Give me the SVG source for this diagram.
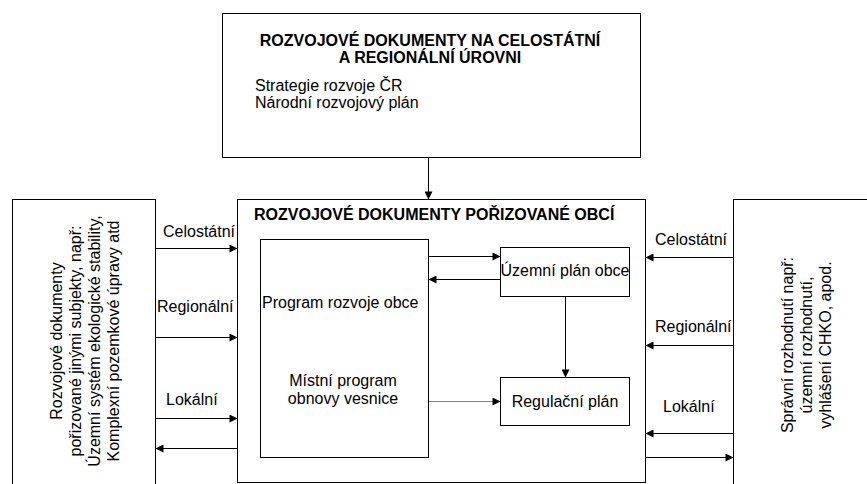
<svg xmlns="http://www.w3.org/2000/svg" width="867" height="484" viewBox="0 0 867 484">
  <style>
    .box { fill: #fff; stroke: #000; stroke-width: 1; }
    .t { font-family: "Liberation Sans", Arial, sans-serif; font-size: 16px; fill: #000; }
    .b { font-weight: bold; }
    .mid { text-anchor: middle; }
    .ln { stroke: #000; stroke-width: 1; fill: none; }
    .arr { marker-end: url(#head); }
    .dot { stroke-dasharray: 1 1; }
  </style>
  <defs>
    <marker id="head" viewBox="0 0 10 10" refX="10" refY="5" markerWidth="9" markerHeight="8" markerUnits="userSpaceOnUse" orient="auto">
      <path d="M0,0 L10,5 L0,10 Z" fill="#000"/>
    </marker>
  </defs>
  <rect width="867" height="484" fill="#fff"/>

  <!-- national / regional documents -->
  <g id="top">
    <rect class="box" x="222.5" y="13.5" width="418" height="144"/>
    <text class="t b mid" x="430" y="46">ROZVOJOVÉ DOKUMENTY NA CELOSTÁTNÍ</text>
    <text class="t b mid" x="430" y="63">A REGIONÁLNÍ ÚROVNI</text>
    <text class="t" x="255" y="91">Strategie rozvoje ČR</text>
    <text class="t" x="255" y="108">Národní rozvojový plán</text>
  </g>

  <!-- documents of other subjects -->
  <g id="left">
    <rect class="box" x="12.5" y="199.5" width="143" height="300"/>
    <g transform="translate(0,341) rotate(-90)">
      <text class="t mid" x="0" y="62">Rozvojové dokumenty</text>
      <text class="t mid" x="0" y="81">pořizované jinými subjekty, např:</text>
      <text class="t mid" x="0" y="100">Územní systém ekologické stability,</text>
      <text class="t mid" x="0" y="119">Komplexní pozemkové úpravy atd</text>
    </g>
  </g>

  <!-- administrative decisions -->
  <g id="right">
    <rect class="box" x="733.5" y="199.5" width="200" height="300"/>
    <g transform="translate(0,345) rotate(-90)">
      <text class="t mid" x="0" y="793">Správní rozhodnutí např:</text>
      <text class="t mid" x="0" y="812">územní rozhodnutí,</text>
      <text class="t mid" x="0" y="831">vyhlášení CHKO, apod.</text>
    </g>
  </g>

  <!-- municipal documents -->
  <g id="main">
    <rect class="box" x="237.5" y="199.5" width="408" height="283"/>
    <text class="t b" x="254" y="220">ROZVOJOVÉ DOKUMENTY POŘIZOVANÉ OBCÍ</text>
  </g>
  <g id="program">
    <rect class="box" x="260.5" y="239.5" width="168" height="218"/>
    <text class="t" x="262" y="308">Program rozvoje obce</text>
    <text class="t mid" x="343" y="386">Místní program</text>
    <text class="t mid" x="343" y="404">obnovy vesnice</text>
  </g>
  <g id="uzemni">
    <rect class="box" x="500.5" y="247.5" width="129" height="49"/>
    <text class="t mid" x="565" y="276">Územní plán obce</text>
  </g>
  <g id="regulacni">
    <rect class="box" x="500.5" y="377.5" width="129" height="48"/>
    <text class="t mid" x="565" y="407">Regulační plán</text>
  </g>

  <!-- connectors -->
  <g id="connectors">
    <line class="ln arr" x1="428.5" y1="157.5" x2="428.5" y2="199.5"/>

    <line class="ln arr" x1="428.5" y1="256.5" x2="500.5" y2="256.5"/>
    <line class="ln arr" x1="500.5" y1="279.5" x2="428.5" y2="279.5"/>
    <line class="ln arr" x1="565.5" y1="296.5" x2="565.5" y2="377.5"/>
    <line class="ln arr dot" x1="428.5" y1="401.5" x2="500.5" y2="401.5"/>

    <line class="ln arr" x1="155.5" y1="248.5" x2="237.5" y2="248.5"/>
    <line class="ln arr" x1="155.5" y1="337.5" x2="237.5" y2="337.5"/>
    <line class="ln arr" x1="155.5" y1="418.5" x2="237.5" y2="418.5"/>
    <line class="ln arr" x1="237.5" y1="448.5" x2="155.5" y2="448.5"/>
    <text class="t" x="163" y="237">Celostátní</text>
    <text class="t" x="157" y="312">Regionální</text>
    <text class="t" x="166" y="405">Lokální</text>

    <line class="ln arr" x1="733.5" y1="257.5" x2="645.5" y2="257.5"/>
    <line class="ln arr" x1="733.5" y1="345.5" x2="645.5" y2="345.5"/>
    <line class="ln arr" x1="733.5" y1="433.5" x2="645.5" y2="433.5"/>
    <line class="ln arr" x1="645.5" y1="457.5" x2="733.5" y2="457.5"/>
    <text class="t" x="655" y="245">Celostátní</text>
    <text class="t" x="655" y="332">Regionální</text>
    <text class="t" x="663" y="412">Lokální</text>
  </g>
</svg>
